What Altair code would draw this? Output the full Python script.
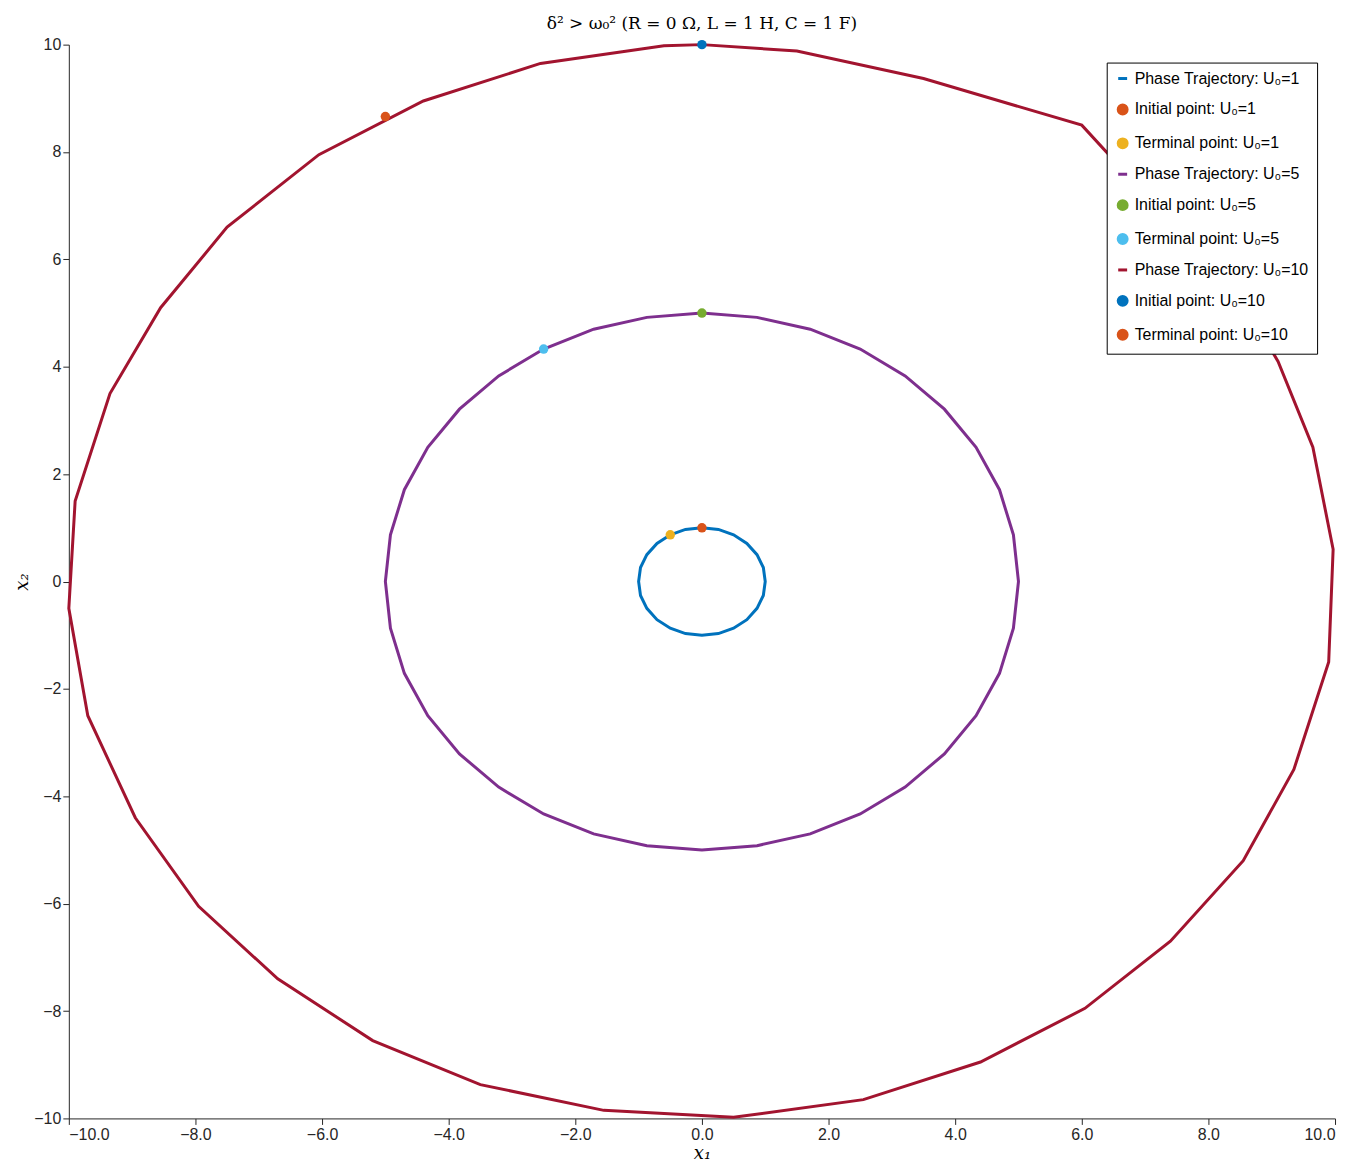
import altair as alt
import pandas as pd

# Outer trajectory U0=10 (coarse polygon)
x10 = [0, 1.5, 3.5, 6.0, 7.4, 8.55, 9.1, 9.65, 9.97, 9.9, 9.35, 8.55, 7.4, 6.05, 4.4, 2.55, 0.5,
       -1.55, -3.5, -5.2, -6.7, -7.95, -8.95, -9.7, -10.0, -9.9, -9.35, -8.55, -7.5, -6.05, -4.4, -2.55, -0.6, 0]
y10 = [10, 9.88, 9.37, 8.5, 6.7, 5.2, 4.1, 2.5, 0.6, -1.5, -3.5, -5.2, -6.7, -7.95, -8.95, -9.65, -9.98,
       -9.85, -9.37, -8.55, -7.4, -6.05, -4.4, -2.5, -0.5, 1.5, 3.5, 5.1, 6.6, 7.95, 8.95, 9.65, 9.98, 10]
# Middle trajectory U0=5
x5 = [0, 0.87, 1.71, 2.5, 3.21, 3.83, 4.33, 4.7, 4.92, 5.0, 4.92, 4.7, 4.33, 3.83, 3.21, 2.5, 1.71, 0.87,
      0, -0.87, -1.71, -2.5, -3.21, -3.83, -4.33, -4.7, -4.92, -5.0, -4.92, -4.7, -4.33, -3.83, -3.21, -2.5, -1.71, -0.87, 0]
y5 = [5, 4.92, 4.7, 4.33, 3.83, 3.21, 2.5, 1.71, 0.87, 0, -0.87, -1.71, -2.5, -3.21, -3.83, -4.33, -4.7, -4.92,
      -5.0, -4.92, -4.7, -4.33, -3.83, -3.21, -2.5, -1.71, -0.87, 0, 0.87, 1.71, 2.5, 3.21, 3.83, 4.33, 4.7, 4.92, 5]
# Inner trajectory U0=1
x1 = [0, 0.26, 0.5, 0.71, 0.87, 0.97, 1.0, 0.97, 0.87, 0.71, 0.5, 0.26, 0, -0.26, -0.5, -0.71, -0.87, -0.97,
      -1.0, -0.97, -0.87, -0.71, -0.5, -0.26, 0]
y1 = [1, 0.97, 0.87, 0.71, 0.5, 0.26, 0, -0.26, -0.5, -0.71, -0.87, -0.97, -1.0, -0.97, -0.87, -0.71, -0.5, -0.26,
      0, 0.26, 0.5, 0.71, 0.87, 0.97, 1]

labels = ["Phase Trajectory: U₀=1", "Initial point: U₀=1", "Terminal point: U₀=1",
          "Phase Trajectory: U₀=5", "Initial point: U₀=5", "Terminal point: U₀=5",
          "Phase Trajectory: U₀=10", "Initial point: U₀=10", "Terminal point: U₀=10"]
colors = ["#0072BD", "#D95319", "#EDB120", "#7E2F8E", "#77AC30", "#4DBEEE", "#A2142F", "#0072BD", "#D95319"]
shapes = ["stroke", "circle", "circle", "stroke", "circle", "circle", "stroke", "circle", "circle"]

pt_x = [0, -0.5, 0, -2.5, 0, -5.0]
pt_y = [1, 0.87, 5, 4.33, 10, 8.66]
pt_lab = [labels[1], labels[2], labels[4], labels[5], labels[7], labels[8]]

rows = []
for lab, xs, ys in [(labels[0], x1, y1), (labels[3], x5, y5), (labels[6], x10, y10)]:
    for i, (a, b) in enumerate(zip(xs, ys)):
        rows.append({"x": a, "y": b, "i": i, "label": lab})
lines = pd.DataFrame(rows)
pts = pd.DataFrame({"x": pt_x, "y": pt_y, "label": pt_lab})

color = alt.Color("label:N", scale=alt.Scale(domain=labels, range=colors),
                  legend=alt.Legend(title=None, orient="top-right", fillColor="white", strokeColor="black",
                                    padding=8, labelFontSize=16, labelFont="Arial", symbolSize=80,
                                    rowPadding=12, symbolStrokeWidth=3, labelLimit=400))
shape = alt.Shape("label:N", scale=alt.Scale(domain=labels, range=shapes), legend=alt.Legend(title=None))

xs_ = alt.X("x:Q", scale=alt.Scale(domain=[-10, 10], nice=False),
            axis=alt.Axis(title="x₁", values=list(range(-10, 11, 2)), grid=False, tickSize=6))
ys_ = alt.Y("y:Q", scale=alt.Scale(domain=[-10, 10], nice=False),
            axis=alt.Axis(title="x₂", values=list(range(-10, 11, 2)), grid=False, tickSize=6))

ln = alt.Chart(lines).mark_line(strokeWidth=3).encode(x=xs_, y=ys_, order="i:Q", color=color, detail="label:N")
pt = alt.Chart(pts).mark_point(filled=True, size=90, opacity=1).encode(x="x:Q", y="y:Q", color=color, shape=shape)

chart = (ln + pt).properties(
    width=1270, height=1077,
    title=alt.TitleParams("δ² > ω₀² (R = 0 Ω, L = 1 H, C = 1 F)", font="DejaVu Serif", fontSize=17,
                          fontWeight="normal", offset=4),
).configure_axis(
    labelFontSize=16, labelFont="Arial", titleFont="DejaVu Serif", titleFontStyle="italic",
    titleFontSize=18, titleFontWeight="normal", domainColor="#262626", tickColor="#262626", labelColor="#262626",
    titlePadding=2
).configure_view(stroke=None).configure_legend(offset=18)

chart.save("out.html", embed_options={"renderer": "svg", "actions": False})
